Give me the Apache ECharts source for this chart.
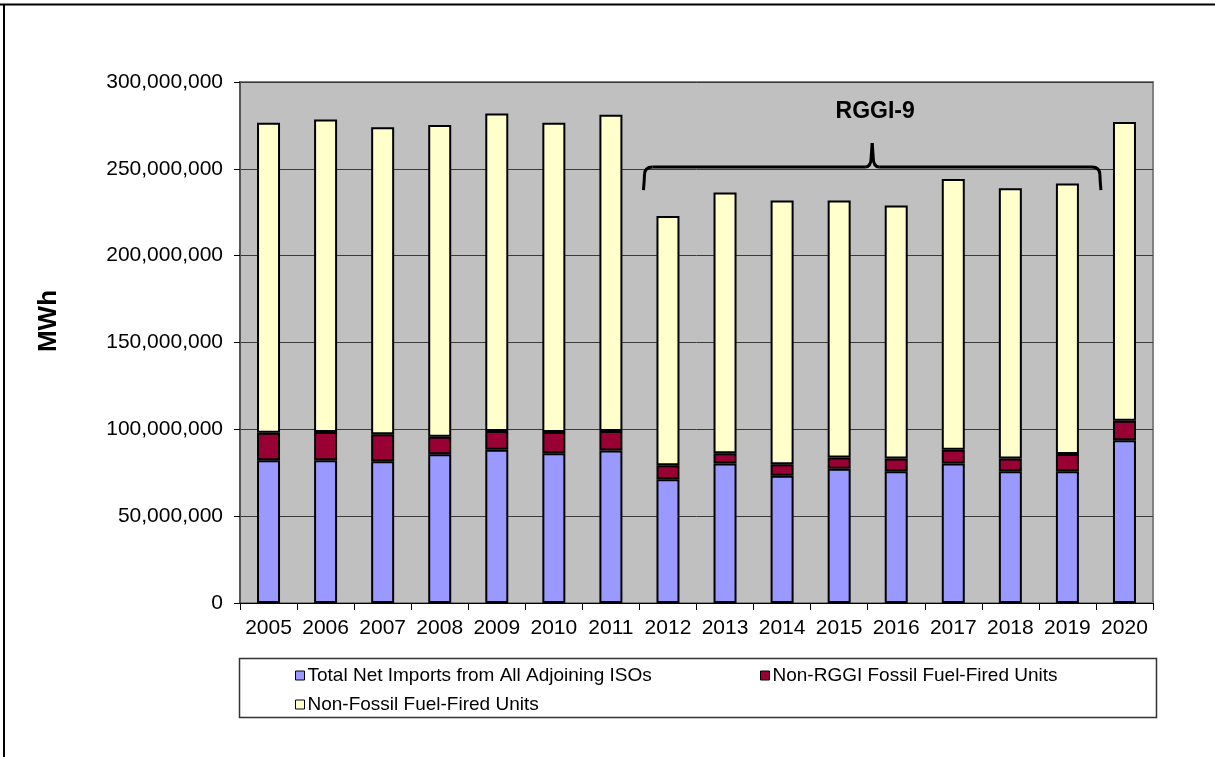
<!DOCTYPE html>
<html>
<head>
<meta charset="utf-8">
<script src="https://cdn.jsdelivr.net/npm/echarts@6/dist/echarts.min.js"></script>
<style>
  html, body { margin: 0; padding: 0; background: #fff; }
  #main { width: 1215px; height: 757px; }
</style>
</head>
<body>
<div id="main"></div>
<script>
// values, MWh
const years = ['2005', '2006', '2007', '2008', '2009', '2010', '2011', '2012',
  '2013', '2014', '2015', '2016', '2017', '2018', '2019', '2020']
const netImports = [82200000, 82200000, 81600000, 85600000, 88200000, 86200000, 87800000, 71300000,
  80300000, 73300000, 77300000, 75900000, 80300000, 75900000, 75900000, 93700000]
const nonRggiFossil = [15900000, 16300000, 15500000, 10100000, 10900000, 12300000, 11300000, 8000000,
  5900000, 6600000, 6500000, 7300000, 7900000, 7300000, 9900000, 11300000]
const nonFossil = [178400000, 179900000, 176800000, 179600000, 182700000, 178000000, 182100000, 143600000,
  150200000, 151800000, 147900000, 145700000, 156000000, 155600000, 155800000, 172000000]
const yTicks = [0, 50000000, 100000000, 150000000, 200000000, 250000000, 300000000]
const seriesNames = ['Total Net Imports from All Adjoining ISOs', 'Non-RGGI Fossil Fuel-Fired Units', 'Non-Fossil Fuel-Fired Units']
const colors = ['#9999FF', '#990033', '#FFFFCC']

const FONT = '"Liberation Sans", Arial, sans-serif'

const chart = echarts.init(document.getElementById('main'))

const barStyle = (c) => ({
  color: c,
  borderColor: '#000',
  borderWidth: 2
})

const legendItem = (name, left, top) => ({
  data: [name],
  left: left,
  top: top,
  itemWidth: 9,
  itemHeight: 9,
  itemGap: 0,
  selectedMode: false,
  icon: 'rect',
  itemStyle: { borderColor: '#000', borderWidth: 1 },
  textStyle: { fontFamily: FONT, fontSize: 19, color: '#000', padding: [0, 0, 0, -2] }
})

const option = {
  animation: false,
  backgroundColor: '#fff',
  grid: {
    left: 240,
    right: 62,
    top: 82,
    bottom: 154,
    show: true,
    backgroundColor: '#C0C0C0',
    borderColor: '#808080',
    borderWidth: 2
  },
  legend: [
    legendItem(seriesNames[0], 290, 661),
    legendItem(seriesNames[1], 755, 661),
    legendItem(seriesNames[2], 290, 690)
  ],
  xAxis: {
    type: 'category',
    data: years,
    axisLine: { lineStyle: { color: '#000', width: 1 } },
    axisTick: { show: true, length: 7, lineStyle: { color: '#000' } },
    axisLabel: { interval: 0, fontFamily: FONT, fontSize: 21, color: '#000', margin: 15 }
  },
  yAxis: {
    type: 'value',
    min: yTicks[0],
    max: yTicks[yTicks.length - 1],
    interval: yTicks[1] - yTicks[0],
    axisLine: { show: true, lineStyle: { color: '#555', width: 2 } },
    axisTick: { show: true, length: 6, lineStyle: { color: '#000' } },
    axisLabel: {
      fontFamily: FONT, fontSize: 21, color: '#000', margin: 17,
      formatter: (v) => v.toLocaleString('en-US')
    },
    splitLine: { lineStyle: { color: '#3a3a3a', width: 1 } }
  },
  series: [
    { name: seriesNames[0], type: 'bar', stack: 'total', barWidth: 23, data: netImports, itemStyle: barStyle(colors[0]) },
    { name: seriesNames[1], type: 'bar', stack: 'total', barWidth: 23, data: nonRggiFossil, itemStyle: barStyle(colors[1]) },
    { name: seriesNames[2], type: 'bar', stack: 'total', barWidth: 23, data: nonFossil, itemStyle: barStyle(colors[2]) }
  ]
}

chart.setOption(option)

// brace over the RGGI-9 years, placed from the axes
const cx = (i) => chart.convertToPixel({ xAxisIndex: 0 }, years[i])
const b1 = (cx(6) + cx(7)) / 2 + 5
const b2 = (cx(14) + cx(15)) / 2 + 4
const mid = (b1 + b2) / 2
const by = chart.convertToPixel({ yAxisIndex: 0 }, 251000000)
const ty = chart.convertToPixel({ yAxisIndex: 0 }, 283000000)

const braceStyle = { fill: 'none', stroke: '#000', lineWidth: 3 }
const curve = (x1, y1, cpx, cpy, x2, y2) => ({
  type: 'bezierCurve', z: 100,
  shape: { x1: x1, y1: y1, cpx1: cpx, cpy1: cpy, x2: x2, y2: y2 },
  style: braceStyle
})
const seg = (x1, y1, x2, y2) => ({
  type: 'line', z: 100,
  shape: { x1: x1, y1: y1, x2: x2, y2: y2 },
  style: braceStyle
})

const brace = [
  curve(b1 - 1, by + 23, b1, by + 12, b1, by + 8),
  curve(b1, by + 8, b1, by, b1 + 8, by),
  seg(b1 + 8, by, mid - 7, by),
  curve(mid - 7, by, mid - 1, by, mid - 1, by - 10),
  seg(mid - 1, by - 10, mid, by - 24),
  seg(mid, by - 24, mid + 1, by - 10),
  curve(mid + 1, by - 10, mid + 1, by, mid + 7, by),
  seg(mid + 7, by, b2 - 8, by),
  curve(b2 - 8, by, b2, by, b2, by + 8),
  curve(b2, by + 8, b2, by + 12, b2 + 1, by + 23)
]

chart.setOption({
  graphic: [
    // outer frame
    { type: 'line', shape: { x1: 0, y1: 4.5, x2: 1215, y2: 4.5 }, style: { stroke: '#000', lineWidth: 2 } },
    { type: 'line', shape: { x1: 4, y1: 4, x2: 4, y2: 757 }, style: { stroke: '#000', lineWidth: 2 } },
    // legend box
    { type: 'rect', shape: { x: 239.5, y: 658.5, width: 917, height: 59 }, style: { fill: 'none', stroke: '#333', lineWidth: 1.5 } },
    // y axis title
    {
      type: 'text', x: 49, y: 321, rotation: Math.PI / 2,
      style: { text: 'MWh', font: 'bold 26px ' + FONT, fill: '#000', textAlign: 'center', textVerticalAlign: 'middle' }
    },
    {
      type: 'text', x: mid + 3, y: ty, z: 100,
      style: { text: 'RGGI-9', font: 'bold 23px ' + FONT, fill: '#000', textAlign: 'center', textVerticalAlign: 'middle' }
    }
  ].concat(brace)
})
</script>
</body>
</html>
